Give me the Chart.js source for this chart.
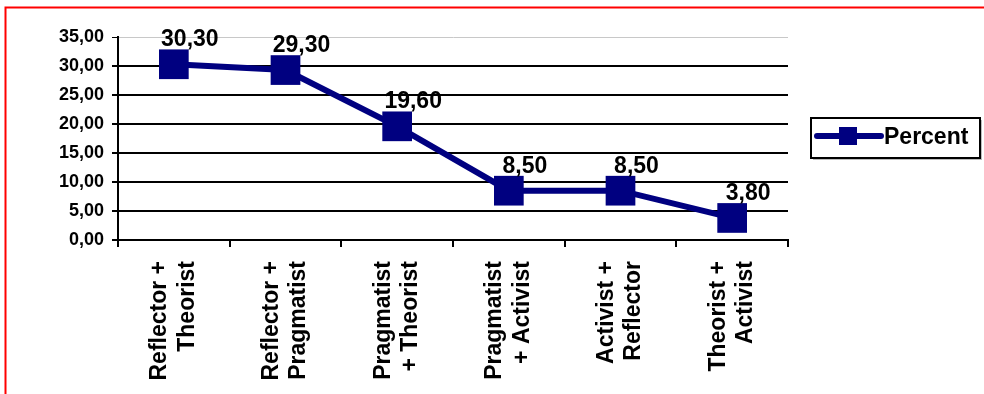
<!DOCTYPE html>
<html>
<head>
<meta charset="utf-8">
<script src="https://cdn.jsdelivr.net/npm/chart.js@4/dist/chart.umd.min.js"></script>
<style>
  html, body { margin: 0; padding: 0; background: #fff; }
  #wrap { width: 984px; height: 394px; position: relative; }
</style>
</head>
<body>
<div id="wrap"><canvas id="c" width="984" height="394"></canvas></div>
<script>
// Learning-style combinations and their share (%)
const categories = [
  ['Reflector +', 'Theorist'],
  ['Reflector +', 'Pragmatist'],
  ['Pragmatist', '+ Theorist'],
  ['Pragmatist', '+ Activist'],
  ['Activist +', 'Reflector'],
  ['Theorist +', 'Activist']
];
const percentValues = [30.30, 29.30, 19.60, 8.50, 8.50, 3.80];
const seriesName = 'Percent';
const yTicks = [0, 5, 10, 15, 20, 25, 30, 35];

const FONT = "'Liberation Sans', Arial, sans-serif";
const NAVY = '#000080';
const fmt = v => Number(v).toFixed(2).replace('.', ',');

// Frame line along the top and left edge
const framePlugin = {
  id: 'frame',
  beforeDraw(chart) {
    const ctx = chart.ctx;
    ctx.save();
    ctx.fillStyle = '#fff';
    ctx.fillRect(0, 0, chart.width, chart.height);
    ctx.strokeStyle = '#ff0000';
    ctx.lineWidth = 2;
    ctx.strokeRect(5.5, 7.5, chart.width + 20, chart.height + 20);
    ctx.restore();
  }
};

// Value labels above each point
const valueLabels = {
  id: 'valueLabels',
  afterDatasetsDraw(chart) {
    const ctx = chart.ctx;
    const meta = chart.getDatasetMeta(0);
    ctx.save();
    ctx.font = 'bold 23px ' + FONT;
    ctx.fillStyle = '#000';
    ctx.textAlign = 'center';
    ctx.textBaseline = 'alphabetic';
    meta.data.forEach((pt, i) => {
      ctx.fillText(fmt(chart.data.datasets[0].data[i]), pt.x + 16, pt.y - 18);
    });
    ctx.restore();
  }
};

// Boxed legend on the right
const boxLegend = {
  id: 'boxLegend',
  afterDraw(chart) {
    const ctx = chart.ctx;
    const ds = chart.data.datasets[0];
    const bx = 811, by = 118, bw = 169, bh = 40;
    ctx.save();
    ctx.fillStyle = '#bbb';
    ctx.fillRect(bx + 2, by + 2, bw, bh);
    ctx.fillStyle = '#fff';
    ctx.fillRect(bx, by, bw, bh);
    ctx.strokeStyle = '#000';
    ctx.lineWidth = 2;
    ctx.strokeRect(bx, by, bw, bh);
    const cy = by + 18;
    ctx.strokeStyle = ds.borderColor;
    ctx.lineWidth = 6;
    ctx.lineCap = 'round';
    ctx.beginPath();
    ctx.moveTo(bx + 6, cy);
    ctx.lineTo(bx + 70, cy);
    ctx.stroke();
    ctx.fillStyle = ds.backgroundColor;
    ctx.fillRect(bx + 28, cy - 9, 18, 18);
    ctx.fillStyle = '#000';
    ctx.font = 'bold 23px ' + FONT;
    ctx.textAlign = 'left';
    ctx.textBaseline = 'middle';
    ctx.fillText(ds.label, bx + 73, cy + 2);
    ctx.restore();
  }
};

new Chart(document.getElementById('c'), {
  type: 'line',
  data: {
    labels: categories,
    datasets: [{
      label: seriesName,
      data: percentValues,
      borderColor: NAVY,
      backgroundColor: NAVY,
      borderWidth: 6,
      tension: 0,
      pointStyle: 'rect',
      pointRadius: 21,
      pointHoverRadius: 21,
      pointBorderWidth: 0,
      pointBackgroundColor: NAVY,
      clip: false
    }]
  },
  options: {
    responsive: false,
    animation: false,
    events: [],
    layout: { padding: { left: 0, top: 37, right: 196, bottom: 0 } },
    plugins: { legend: { display: false }, tooltip: { enabled: false } },
    scales: {
      x: {
        type: 'category',
        offset: true,
        afterFit(s) { s.height = 154; },
        grid: {
          offset: true,
          drawOnChartArea: false,
          drawTicks: true,
          tickLength: 7,
          color: '#000',
          lineWidth: 2
        },
        border: { display: true, color: '#000', width: 2 },
        ticks: {
          autoSkip: false,
          minRotation: 90,
          maxRotation: 90,
          labelOffset: -14,
          padding: 14,
          color: '#000',
          font: { family: FONT, size: 23, weight: 'bold', lineHeight: 1.2 }
        }
      },
      y: {
        min: 0,
        max: 35,
        afterFit(s) { s.width = 118; },
        afterBuildTicks(s) { s.ticks = yTicks.map(v => ({ value: v })); },
        grid: {
          color: c => (c.tick && c.tick.value === 35) ? '#c8c8c8' : '#000',
          lineWidth: c => (c.tick && c.tick.value === 35) ? 1 : 2,
          tickColor: '#000',
          tickLength: 6,
          drawTicks: true
        },
        border: { display: true, color: '#000', width: 2 },
        ticks: {
          padding: 8,
          color: '#000',
          font: { family: FONT, size: 18, weight: 'bold' },
          callback: v => fmt(v)
        }
      }
    }
  },
  plugins: [framePlugin, valueLabels, boxLegend]
});
</script>
</body>
</html>
